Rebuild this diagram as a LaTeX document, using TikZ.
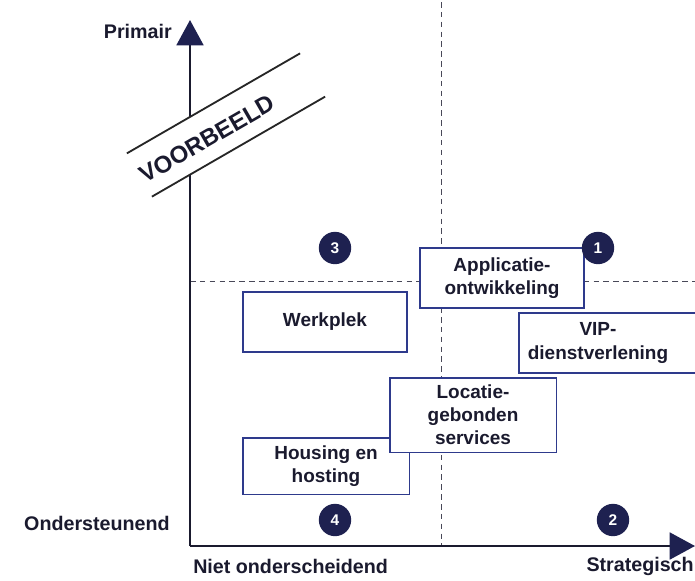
\documentclass[tikz,border=0pt]{standalone}
\usepackage{fontspec}
\setmainfont{Liberation Sans}
\usetikzlibrary{arrows.meta}
\definecolor{navy}{HTML}{1E2150}
\definecolor{boxblue}{HTML}{2E3A8C}
\definecolor{ink}{HTML}{1A1A2E}
\tikzset{
  blok/.style={draw=boxblue,line width=1.4pt,fill=white,align=center,
    font=\bfseries\fontsize{13.5}{16.5}\selectfont,text=ink,inner sep=0pt},
  kwadrant/.style={circle,fill=navy,text=white,minimum size=23pt,inner sep=0pt,
    font=\bfseries\fontsize{11}{12}\selectfont},
  aslabel/.style={font=\bfseries\fontsize{14}{16}\selectfont,text=ink,inner sep=0pt},
  stippel/.style={dashed,dash pattern=on 4pt off 3pt,line width=0.7pt,ink!80}
}
\begin{document}
\begin{tikzpicture}[x=0.025cm,y=-0.025cm]
    \useasboundingbox[fill=white] (0,0) rectangle (695,580);
    \clip (0,0) rectangle (695,580);
    %dashed quadrant lines
    \draw[stippel] (441,2) -- (441,546);
    \draw[stippel] (190,281) -- (695,281);
    %axes
    \coordinate (oorsprong) at (190,546);
    \coordinate (ytop) at (190,20);
    \coordinate (xtop) at (695,546);
    \draw[line width=2pt,ink,-{Triangle[length=18pt,width=19pt,color=navy]}] (oorsprong) -- (ytop);
    \draw[line width=2pt,ink,-{Triangle[length=18pt,width=19pt,color=navy]}] (oorsprong) -- (xtop);
    \node[aslabel,anchor=east] (primair) at (172,31) {Primair};
    \node[aslabel,anchor=east] (onderst) at (170,523) {Ondersteunend};
    \node[aslabel,anchor=west] (niet) at (193,566) {Niet onderscheidend};
    \node[aslabel,anchor=east] (strat) at (694,566) {Strategisch};
    %example band
    \begin{scope}[shift={(226,125)},rotate=30]
      \fill[white] (-100,-25) rectangle (100,25);
      \draw[line width=1.3pt,black!85] (-100,-25) -- (100,-25);
      \draw[line width=1.3pt,black!85] (-100,25) -- (100,25);
    \end{scope}
    \node[rotate=30,text=ink,font=\bfseries\fontsize{17}{18}\selectfont] (voorbeeld) at (207,139) {VOORBEELD};
    %services
    \node[blok,minimum width=164*0.711pt,minimum height=60*0.711pt] (applicatie) at (502,278) {Applicatie-\\ontwikkeling};
    \node[blok,minimum width=164*0.711pt,minimum height=60*0.711pt] (werkplek) at (325,322) {Werkplek};
    \node[blok,minimum width=190*0.711pt,minimum height=60*0.711pt,anchor=west] (vip) at (518,343) {};
    \node[blok,draw=none,fill=none] (viptekst) at (598,343) {VIP-\\dienstverlening};
    \node[blok,minimum width=167*0.711pt,minimum height=57*0.711pt] (housing) at (326,466) {Housing en\\hosting};
    \node[blok,minimum width=167*0.711pt,minimum height=75*0.711pt] (locatie) at (473,415) {Locatie-\\gebonden\\services};
    %quadrant numbers
    \node[kwadrant] (q1) at (598,248) {1};
    \node[kwadrant] (q2) at (613,520) {2};
    \node[kwadrant] (q3) at (335,248) {3};
    \node[kwadrant] (q4) at (335,520) {4};
\end{tikzpicture}
\end{document}
